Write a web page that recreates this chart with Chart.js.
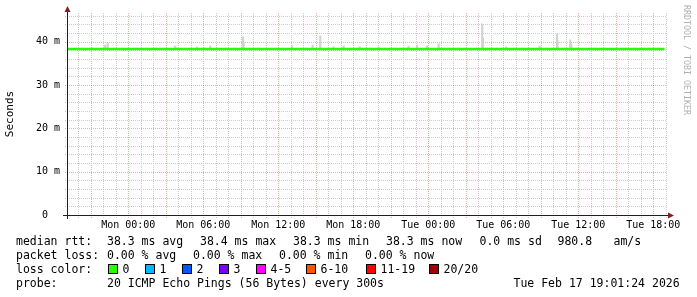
<!DOCTYPE html>
<html>
<head>
<meta charset="utf-8">
<script src="https://cdn.jsdelivr.net/npm/chart.js@4/dist/chart.umd.min.js"></script>
<style>
  body { margin: 0; background: #fff; }
  canvas { display: block; }
</style>
</head>
<body>
<canvas id="ping" width="697" height="297"></canvas>
<script>
// hours relative to Mon 00:00
const startHour = -4.9;
const endHour = 43.1;
const tickHours = [0, 6, 12, 18, 24, 30, 36, 42];
const tickLabels = ['Mon 00:00', 'Mon 06:00', 'Mon 12:00', 'Mon 18:00',
                    'Tue 00:00', 'Tue 06:00', 'Tue 12:00', 'Tue 18:00'];

// median rtt in ms
const medianHours = [-4.9, 42.9];
const medianValues = [38.3, 38.3];

// smoke spikes above the median (ms)
const smokeHours = [-1.85, -1.65, 3.76, 5.5, 6.56, 9.18, 9.23, 13.1, 14.75, 15.36,
                    16.43, 17.23, 18.51, 20.03, 22.43, 23.1, 23.9, 24.83, 28.32, 28.38,
                    30.24, 32.91, 34.3, 34.35, 35.36, 35.44];
const smokeTops = [39.2, 39.7, 39.0, 38.8, 39.0, 41.1, 39.8, 39.0, 39.2, 41.3,
                   38.8, 39.0, 38.8, 38.8, 39.0, 39.2, 39.0, 39.5, 44.1, 40.8,
                   38.8, 39.0, 41.8, 40.2, 40.4, 39.5];

const yMax = 46.6;

const lossLabels = ['0', '1', '2', '3', '4-5', '6-10', '11-19', '20/20'];
const lossColors = ['#26ff00', '#00b8ff', '#0059ff', '#7e00ff', '#ff00ff', '#ff5500', '#ff0000', '#a10000'];

const mono = "'DejaVu Sans Mono', monospace";
const redGrid = 'rgba(255,0,0,0.35)';
const grayGrid = '#cccccc';
const clear = 'rgba(0,0,0,0)';

const smokeData = smokeHours.map((h, i) => ({x: h, y: [medianValues[0], smokeTops[i]]}));
const medianData = medianHours.map((h, i) => ({x: h, y: medianValues[i]}));

// rrdtool style dotted grid, drawn from the chart's own scales
const rrdGrid = {
  id: 'rrdGrid',
  beforeDatasetsDraw(chart) {
    const ctx = chart.ctx;
    const a = chart.chartArea;
    const xs = chart.scales.x, ys = chart.scales.y;
    ctx.save();
    ctx.lineWidth = 1;
    ctx.setLineDash([1, 1]);
    xs.ticks.forEach(t => {
      const px = Math.round(xs.getPixelForValue(t.value)) + 0.5;
      ctx.strokeStyle = t.value % 3 === 0 ? redGrid : grayGrid;
      ctx.beginPath();
      ctx.moveTo(px, a.top);
      ctx.lineTo(px, a.bottom + 3);
      ctx.stroke();
    });
    ys.ticks.forEach(t => {
      const py = Math.round(ys.getPixelForValue(t.value)) + 0.5;
      ctx.strokeStyle = t.value % 10 === 0 ? redGrid : grayGrid;
      ctx.beginPath();
      ctx.moveTo(a.left - 2, py);
      ctx.lineTo(a.right, py);
      ctx.stroke();
    });
    ctx.restore();
  }
};

const rrdExtras = {
  id: 'rrdExtras',
  beforeDraw(chart) {
    const ctx = chart.ctx;
    ctx.save();
    ctx.fillStyle = '#fff';
    ctx.fillRect(0, 0, chart.width, chart.height);
    ctx.restore();
  },
  afterDraw(chart) {
    const ctx = chart.ctx;
    const a = chart.chartArea;
    ctx.save();
    // axes
    ctx.strokeStyle = '#1f1f1f';
    ctx.lineWidth = 1;
    ctx.beginPath();
    ctx.moveTo(a.left + 0.5, a.bottom + 4);
    ctx.lineTo(a.left + 0.5, a.top - 2);
    ctx.moveTo(a.left - 4, a.bottom + 0.5);
    ctx.lineTo(a.right + 2, a.bottom + 0.5);
    ctx.stroke();
    // arrows
    ctx.fillStyle = '#801f1f';
    ctx.beginPath();
    ctx.moveTo(a.left + 0.5, a.top - 7);
    ctx.lineTo(a.left - 2.5, a.top - 1);
    ctx.lineTo(a.left + 3.5, a.top - 1);
    ctx.closePath();
    ctx.fill();
    ctx.beginPath();
    ctx.moveTo(a.right + 7, a.bottom + 0.5);
    ctx.lineTo(a.right + 1, a.bottom - 2.5);
    ctx.lineTo(a.right + 1, a.bottom + 3.5);
    ctx.closePath();
    ctx.fill();

    // watermark
    ctx.save();
    ctx.translate(686, 5);
    ctx.rotate(Math.PI / 2);
    ctx.font = '8.3px ' + mono;
    ctx.fillStyle = '#b0b0b0';
    ctx.textBaseline = 'middle';
    ctx.textAlign = 'left';
    ctx.fillText('RRDTOOL / TOBI OETIKER', 0, 0);
    ctx.restore();

    // legend text
    ctx.font = '11.5px ' + mono;
    ctx.fillStyle = '#000';
    ctx.textBaseline = 'alphabetic';
    ctx.textAlign = 'left';
    const rows = [
      [245.3, [[16, 'median rtt:'], [107, '38.3 ms avg'], [200, '38.4 ms max'], [293, '38.3 ms min'],
               [386, '38.3 ms now'], [479.5, '0.0 ms sd'], [557.5, '980.8'], [613.5, 'am/s']]],
      [259.3, [[16, 'packet loss:'], [107, '0.00 % avg'], [193, '0.00 % max'], [279, '0.00 % min'],
               [365, '0.00 % now']]],
      [273.3, [[16, 'loss color:']]],
      [287.3, [[16, 'probe:'], [107, '20 ICMP Echo Pings (56 Bytes) every 300s'],
               [513.5, 'Tue Feb 17 19:01:24 2026']]]
    ];
    rows.forEach(([y, parts]) => parts.forEach(([x, t]) => ctx.fillText(t, x, y)));

    const boxX = [108.5, 145.5, 182.5, 219.5, 256.5, 306.5, 366.5, 429.5];
    lossLabels.forEach((lab, i) => {
      ctx.fillStyle = lossColors[i];
      ctx.fillRect(boxX[i], 264.5, 9, 9);
      ctx.strokeStyle = '#000';
      ctx.strokeRect(boxX[i], 264.5, 9, 9);
      ctx.fillStyle = '#000';
      ctx.fillText(lab, boxX[i] + 14, 273.3);
    });
    ctx.restore();
  }
};

new Chart(document.getElementById('ping'), {
  type: 'bar',
  data: {
    datasets: [
      {
        type: 'line',
        label: 'median rtt',
        data: medianData,
        borderColor: lossColors[0],
        borderWidth: 2.5,
        pointRadius: 0,
        fill: false,
        order: 0
      },
      {
        type: 'bar',
        label: 'smoke',
        data: smokeData,
        backgroundColor: '#d2d2d2',
        borderWidth: 0,
        barThickness: 1.5,
        grouped: false,
        order: 1
      }
    ]
  },
  options: {
    responsive: false,
    animation: false,
    devicePixelRatio: 1,
    layout: { padding: { left: 0, right: 30, top: 13, bottom: 0 } },
    plugins: { legend: { display: false }, tooltip: { enabled: false } },
    scales: {
      x: {
        type: 'linear',
        min: startHour,
        max: endHour,
        offset: false,
        afterBuildTicks(scale) {
          const t = [];
          for (let h = Math.ceil(startHour); h <= Math.floor(endHour); h++) t.push({value: h});
          scale.ticks = t;
        },
        afterFit(scale) { scale.height = 82; },
        ticks: {
          autoSkip: false,
          maxRotation: 0,
          padding: 1,
          color: '#000',
          font: { family: mono, size: 10 },
          callback(v) {
            const i = tickHours.indexOf(v);
            return i >= 0 ? tickLabels[i] : '';
          }
        },
        grid: { color: clear, tickLength: 3, drawTicks: true },
        border: { display: false }
      },
      y: {
        min: 0,
        max: yMax,
        afterBuildTicks(scale) {
          const t = [];
          for (let v = 0; v <= yMax; v += 2) t.push({value: v});
          scale.ticks = t;
        },
        afterFit(scale) { scale.width = 67; },
        title: {
          display: true,
          text: 'Seconds',
          color: '#000',
          font: { family: mono, size: 11 },
          padding: { top: 4, bottom: 0 }
        },
        ticks: {
          autoSkip: false,
          padding: 7,
          color: '#000',
          font: { family: mono, size: 10 },
          callback(v) {
            if (v === 0) return '0  ';
            return v % 10 === 0 ? v + ' m' : '';
          }
        },
        grid: { color: clear, drawTicks: false },
        border: { display: false }
      }
    }
  },
  plugins: [rrdGrid, rrdExtras]
});
</script>
</body>
</html>
